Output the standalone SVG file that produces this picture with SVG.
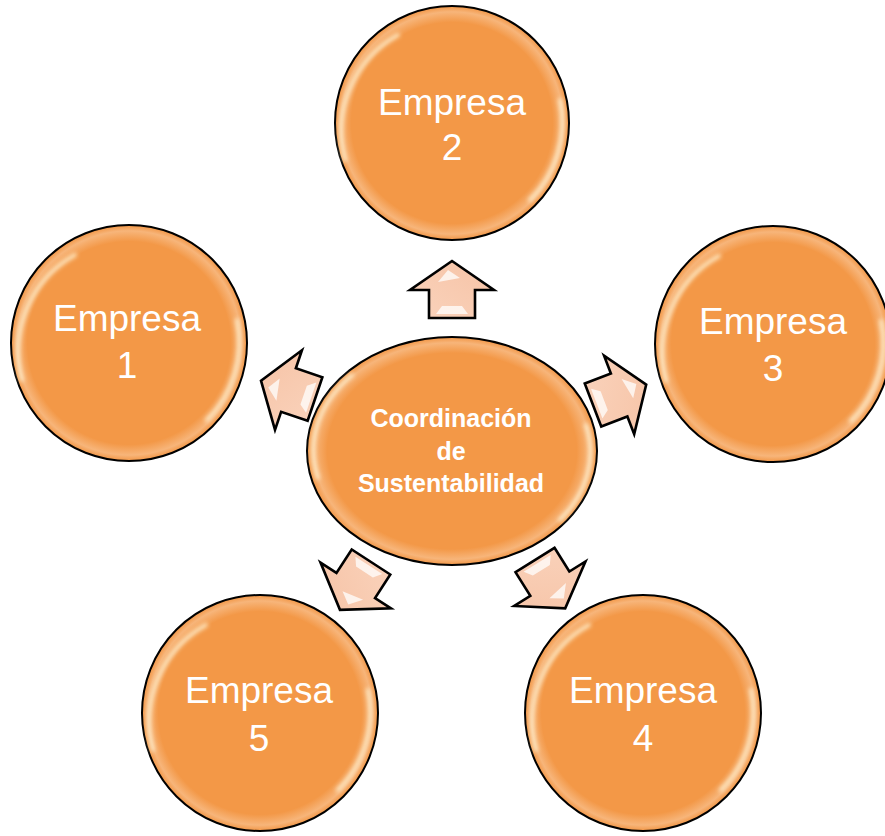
<svg xmlns="http://www.w3.org/2000/svg" width="885" height="836" viewBox="0 0 885 836">
<defs>
<radialGradient id="cg" cx="50%" cy="50%" r="50%">
<stop offset="0" stop-color="#F39847"/>
<stop offset="0.86" stop-color="#F39847"/>
<stop offset="0.95" stop-color="#F7B57A"/>
<stop offset="1" stop-color="#F29645"/>
</radialGradient>
<linearGradient id="ag" x1="0" y1="0" x2="1" y2="1">
<stop offset="0" stop-color="#FAD3BC"/>
<stop offset="1" stop-color="#F6C3A6"/>
</linearGradient>
<filter id="blur" x="-20%" y="-20%" width="140%" height="140%"><feGaussianBlur stdDeviation="2"/></filter>
<polygon id="arrow" points="0,-23 28,-23 28,-42 57,0 28,42 28,23 0,23"/>
</defs>
<style>
.node{fill:url(#cg);stroke:#000;stroke-width:2}
.hl{fill:none;stroke:#FFF6D8;stroke-width:4;stroke-linecap:round;opacity:0.85;filter:url(#blur)}
.lbl{font-family:"Liberation Sans",Arial,sans-serif;font-size:37px;fill:#fff;text-anchor:middle}
.clbl{font-family:"Liberation Sans",Arial,sans-serif;font-size:25px;font-weight:bold;fill:#fff;text-anchor:middle}
.arr{fill:url(#ag);stroke:#000;stroke-width:2.6;stroke-linejoin:miter}
.ah{fill:#fff;opacity:0.75}
</style>
<rect width="885" height="836" fill="#fff"/>
<g id="connectors">
<g transform="translate(452,318) rotate(-90)"><use href="#arrow" class="arr"/><path class="ah" d="M36,-14 L48,-4 L40,8 Z"/><path class="ah" d="M4,-16 L12,-10 L12,10 L4,16 Z"/></g>
<g transform="translate(315,399) rotate(198.7)"><use href="#arrow" class="arr"/><path class="ah" d="M36,-14 L48,-4 L40,8 Z"/><path class="ah" d="M4,-16 L12,-10 L12,10 L4,16 Z"/></g>
<g transform="translate(593,405) rotate(-21)"><use href="#arrow" class="arr"/><path class="ah" d="M36,-14 L48,-4 L40,8 Z"/><path class="ah" d="M4,-16 L12,-10 L12,10 L4,16 Z"/></g>
<g transform="translate(371,562) rotate(123)"><use href="#arrow" class="arr"/><path class="ah" d="M36,-14 L48,-4 L40,8 Z"/><path class="ah" d="M4,-16 L12,-10 L12,10 L4,16 Z"/></g>
<g transform="translate(535,560) rotate(58)"><use href="#arrow" class="arr"/><path class="ah" d="M36,-14 L48,-4 L40,8 Z"/><path class="ah" d="M4,-16 L12,-10 L12,10 L4,16 Z"/></g>
</g>
<g id="center">
<ellipse class="node" cx="452" cy="451" rx="145" ry="114"/>
<path class="hl" d="M318,478 A138,108 0 0 1 352,375"/>
<path class="hl" d="M586,425 A138,108 0 0 1 560,520"/>
<text class="clbl" x="451" y="427">Coordinación</text>
<text class="clbl" x="451" y="460">de</text>
<text class="clbl" x="451" y="492">Sustentabilidad</text>
</g>
<g id="empresa2">
<circle class="node" cx="452" cy="123" r="117"/>
<path class="hl" d="M345,160 A110,110 0 0 1 398,35"/>
<path class="hl" d="M560,100 A110,110 0 0 1 530,200"/>
<text class="lbl" x="452" y="115">Empresa</text>
<text class="lbl" x="452" y="160">2</text>
</g>
<g id="empresa1">
<circle class="node" cx="129" cy="343" r="118"/>
<path class="hl" d="M22,380 A110,110 0 0 1 75,255"/>
<path class="hl" d="M237,320 A110,110 0 0 1 207,420"/>
<text class="lbl" x="127" y="331">Empresa</text>
<text class="lbl" x="127" y="378">1</text>
</g>
<g id="empresa3">
<circle class="node" cx="773" cy="344" r="118"/>
<path class="hl" d="M666,381 A110,110 0 0 1 719,256"/>
<path class="hl" d="M881,321 A110,110 0 0 1 851,421"/>
<text class="lbl" x="773" y="334">Empresa</text>
<text class="lbl" x="773" y="381">3</text>
</g>
<g id="empresa5">
<circle class="node" cx="260" cy="713" r="118"/>
<path class="hl" d="M153,750 A110,110 0 0 1 206,625"/>
<path class="hl" d="M368,690 A110,110 0 0 1 338,790"/>
<text class="lbl" x="259" y="703">Empresa</text>
<text class="lbl" x="259" y="751">5</text>
</g>
<g id="empresa4">
<circle class="node" cx="643" cy="713" r="118"/>
<path class="hl" d="M536,750 A110,110 0 0 1 589,625"/>
<path class="hl" d="M751,690 A110,110 0 0 1 721,790"/>
<text class="lbl" x="643" y="703">Empresa</text>
<text class="lbl" x="643" y="751">4</text>
</g>
</svg>
